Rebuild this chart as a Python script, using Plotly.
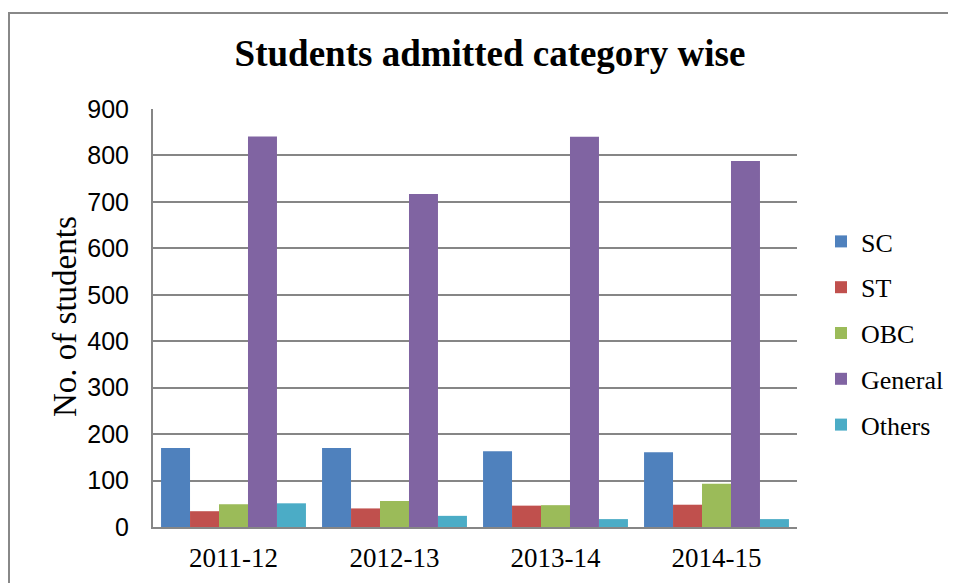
import plotly.graph_objects as go

years = ["2011-12", "2012-13", "2013-14", "2014-15"]
sc = [170, 170, 163, 161]
st = [34, 40, 46, 48]
obc = [49, 56, 47, 93]
general = [841, 717, 840, 788]
others = [51, 24, 17, 17]

series_names = ["SC", "ST", "OBC", "General", "Others"]
series_values = [sc, st, obc, general, others]
colors = ["#4F81BD", "#C0504D", "#9BBB59", "#8064A2", "#4BACC6"]

OFF = 8  # page body margin
W, H = 956 - OFF, 583 - OFF
# target pixel positions in the screenshot
L_px, R_px, T_px, B_px = 153, 797, 109, 527
L, T = L_px - OFF, T_px - OFF
R = W - (R_px - OFF)
B = H - (B_px - OFF)

fig = go.Figure()
for name, vals, c in zip(series_names, series_values, colors):
    fig.add_trace(go.Bar(x=years, y=vals, name=name, marker_color=c,
                         marker_line_width=0, legendgroup=name))

pw = W - L - R
ph = H - T - B

def px_x(x):
    return (x - OFF - L) / pw

def px_y(y):
    return (B_px - y) / ph

fig.update_layout(
    width=W, height=H,
    margin=dict(l=L, r=R, t=T, b=B, autoexpand=False),
    paper_bgcolor="white", plot_bgcolor="white",
    barmode="group", bargap=0.1, bargroupgap=0,
    title=dict(text="<b>Students admitted category wise</b>",
               font=dict(family="Liberation Serif", size=37, color="black"),
               x=(490 - OFF) / W, xanchor="center",
               y=1 - (53 - OFF) / H, yanchor="middle"),
    showlegend=True,
    legend=dict(x=px_x(821), xanchor="left", y=px_y(218), yanchor="top",
                font=dict(family="Liberation Serif", size=26, color="black"),
                tracegroupgap=9, itemsizing="constant", bgcolor="rgba(0,0,0,0)"),
    xaxis=dict(type="category", showline=True, linecolor="#868686", linewidth=2,
               tickfont=dict(family="Liberation Serif", size=27, color="black"),
               ticks="", ticklabelstandoff=6, showgrid=False),
    yaxis=dict(range=[0, 900], dtick=100, showline=True, linecolor="#868686",
               linewidth=2, gridcolor="#868686", gridwidth=1.5,
               tickfont=dict(family="Liberation Sans", size=25, color="black"),
               ticks="", ticklabelstandoff=17,
               zeroline=False),
    annotations=[dict(text="No. of students", textangle=-90, showarrow=False,
                      xref="paper", yref="paper", x=px_x(65), y=px_y(317),
                      xanchor="center", yanchor="middle",
                      font=dict(family="Liberation Serif", size=33, color="black"))],
    shapes=[
        dict(type="line", xref="paper", yref="paper",
             x0=px_x(8), x1=px_x(1000), y0=px_y(13), y1=px_y(13),
             line=dict(color="#888888", width=2), layer="below"),
        dict(type="line", xref="paper", yref="paper",
             x0=px_x(9), x1=px_x(9), y0=px_y(12), y1=px_y(640),
             line=dict(color="#888888", width=2), layer="below"),
    ],
)

fig.write_html(
    "out.html",
    post_script="document.documentElement.style.overflow='hidden';"
                "document.body.style.overflow='hidden';",
)
